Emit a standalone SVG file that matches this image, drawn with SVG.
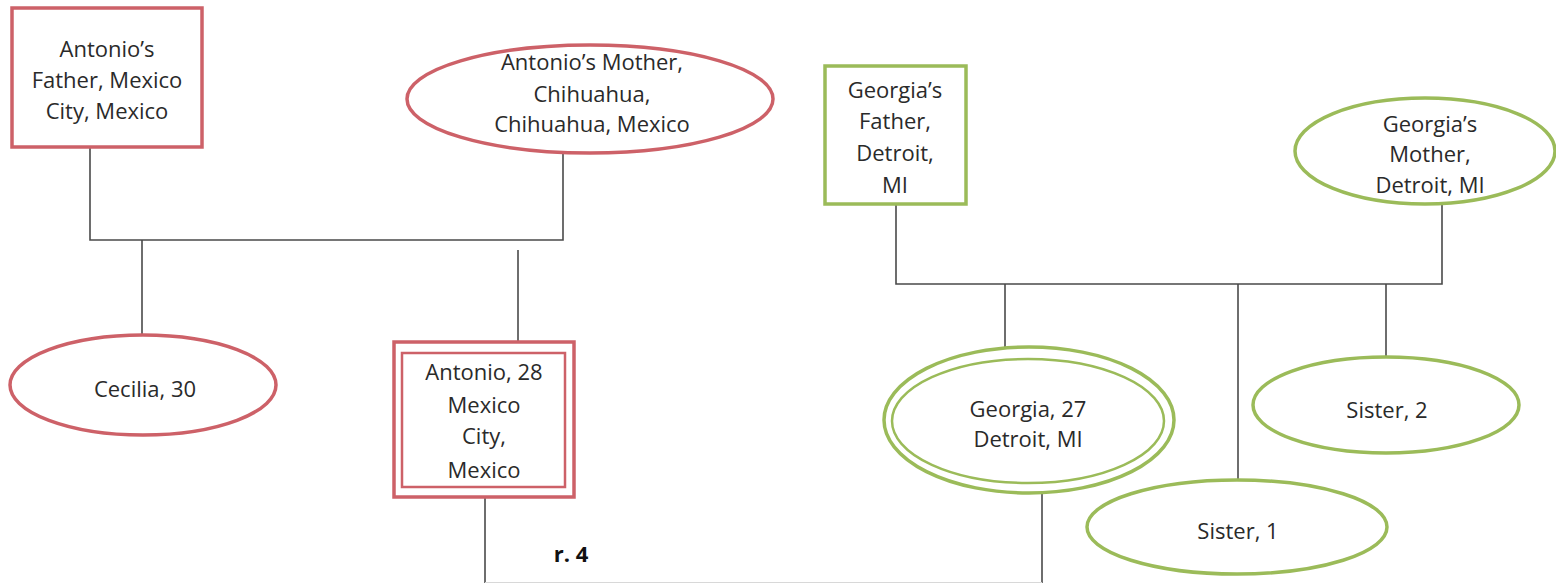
<svg xmlns="http://www.w3.org/2000/svg" width="1556" height="583" viewBox="0 0 1556 583">
<style>
.red{fill:#fff;stroke:#cd6168;stroke-width:3.5}
.redt{fill:none;stroke:#cd6168;stroke-width:2.5}
.grn{fill:#fff;stroke:#9bbb59;stroke-width:3.5}
.grnt{fill:none;stroke:#9bbb59;stroke-width:2.5}
.ln{fill:none;stroke:#4a4a4a;stroke-width:1.6}
text{font-family:"Open Sans","Noto Sans",sans-serif;font-size:22px;fill:#2a2a2a;text-anchor:middle}
.b{font-weight:bold;font-size:22px;fill:#111}
</style>
<g id="connectors">
<polyline class="ln" points="90,147 90,240 563,240 563,153"/>
<line class="ln" x1="142" y1="240" x2="142" y2="335"/>
<line class="ln" x1="518" y1="250" x2="518" y2="342"/>
<polyline class="ln" points="896,204 896,284 1442,284 1442,204"/>
<line class="ln" x1="1005" y1="284" x2="1005" y2="348"/>
<line class="ln" x1="1238" y1="284" x2="1238" y2="480"/>
<line class="ln" x1="1386" y1="284" x2="1386" y2="357"/>
<line class="ln" x1="485" y1="497" x2="485" y2="583"/>
<line class="ln" x1="1042" y1="493" x2="1042" y2="583"/>
<line x1="485" y1="582.5" x2="1042" y2="582.5" stroke="#d8d8d8" stroke-width="1"/>
</g>
<g id="antonio-father">
<rect class="red" x="12" y="8" width="190" height="139"/>
<text x="107" y="57">Antonio’s</text>
<text x="107" y="88">Father, Mexico</text>
<text x="107" y="119">City, Mexico</text>
</g>
<g id="antonio-mother">
<ellipse class="red" cx="590" cy="99" rx="183" ry="54"/>
<text x="592" y="70">Antonio’s Mother,</text>
<text x="592" y="102">Chihuahua,</text>
<text x="592" y="132">Chihuahua, Mexico</text>
</g>
<g id="cecilia">
<ellipse class="red" cx="143" cy="385" rx="133" ry="50"/>
<text x="145" y="397">Cecilia, 30</text>
</g>
<g id="antonio">
<rect class="red" x="394" y="342" width="180" height="155"/>
<rect class="redt" x="402" y="353" width="163" height="134"/>
<text x="484" y="380">Antonio, 28</text>
<text x="484" y="413">Mexico</text>
<text x="484" y="444">City,</text>
<text x="484" y="478">Mexico</text>
</g>
<g id="georgia-father">
<rect class="grn" x="825" y="66" width="141" height="138"/>
<text x="895" y="98">Georgia’s</text>
<text x="895" y="129">Father,</text>
<text x="895" y="161">Detroit,</text>
<text x="895" y="193">MI</text>
</g>
<g id="georgia-mother">
<ellipse class="grn" cx="1425" cy="151" rx="130" ry="53"/>
<text x="1430" y="132">Georgia’s</text>
<text x="1430" y="162">Mother,</text>
<text x="1430" y="193">Detroit, MI</text>
</g>
<g id="georgia">
<ellipse class="grn" cx="1029" cy="420" rx="145" ry="73"/>
<ellipse class="grnt" cx="1028" cy="421" rx="136" ry="62"/>
<text x="1028" y="417">Georgia, 27</text>
<text x="1028" y="447">Detroit, MI</text>
</g>
<g id="sister2">
<ellipse class="grn" cx="1386" cy="405" rx="133" ry="48"/>
<text x="1387" y="418">Sister, 2</text>
</g>
<g id="sister1">
<ellipse class="grn" cx="1237" cy="527" rx="150" ry="47"/>
<text x="1238" y="539">Sister, 1</text>
</g>
<text class="b" x="571" y="562">r. 4</text>
</svg>
